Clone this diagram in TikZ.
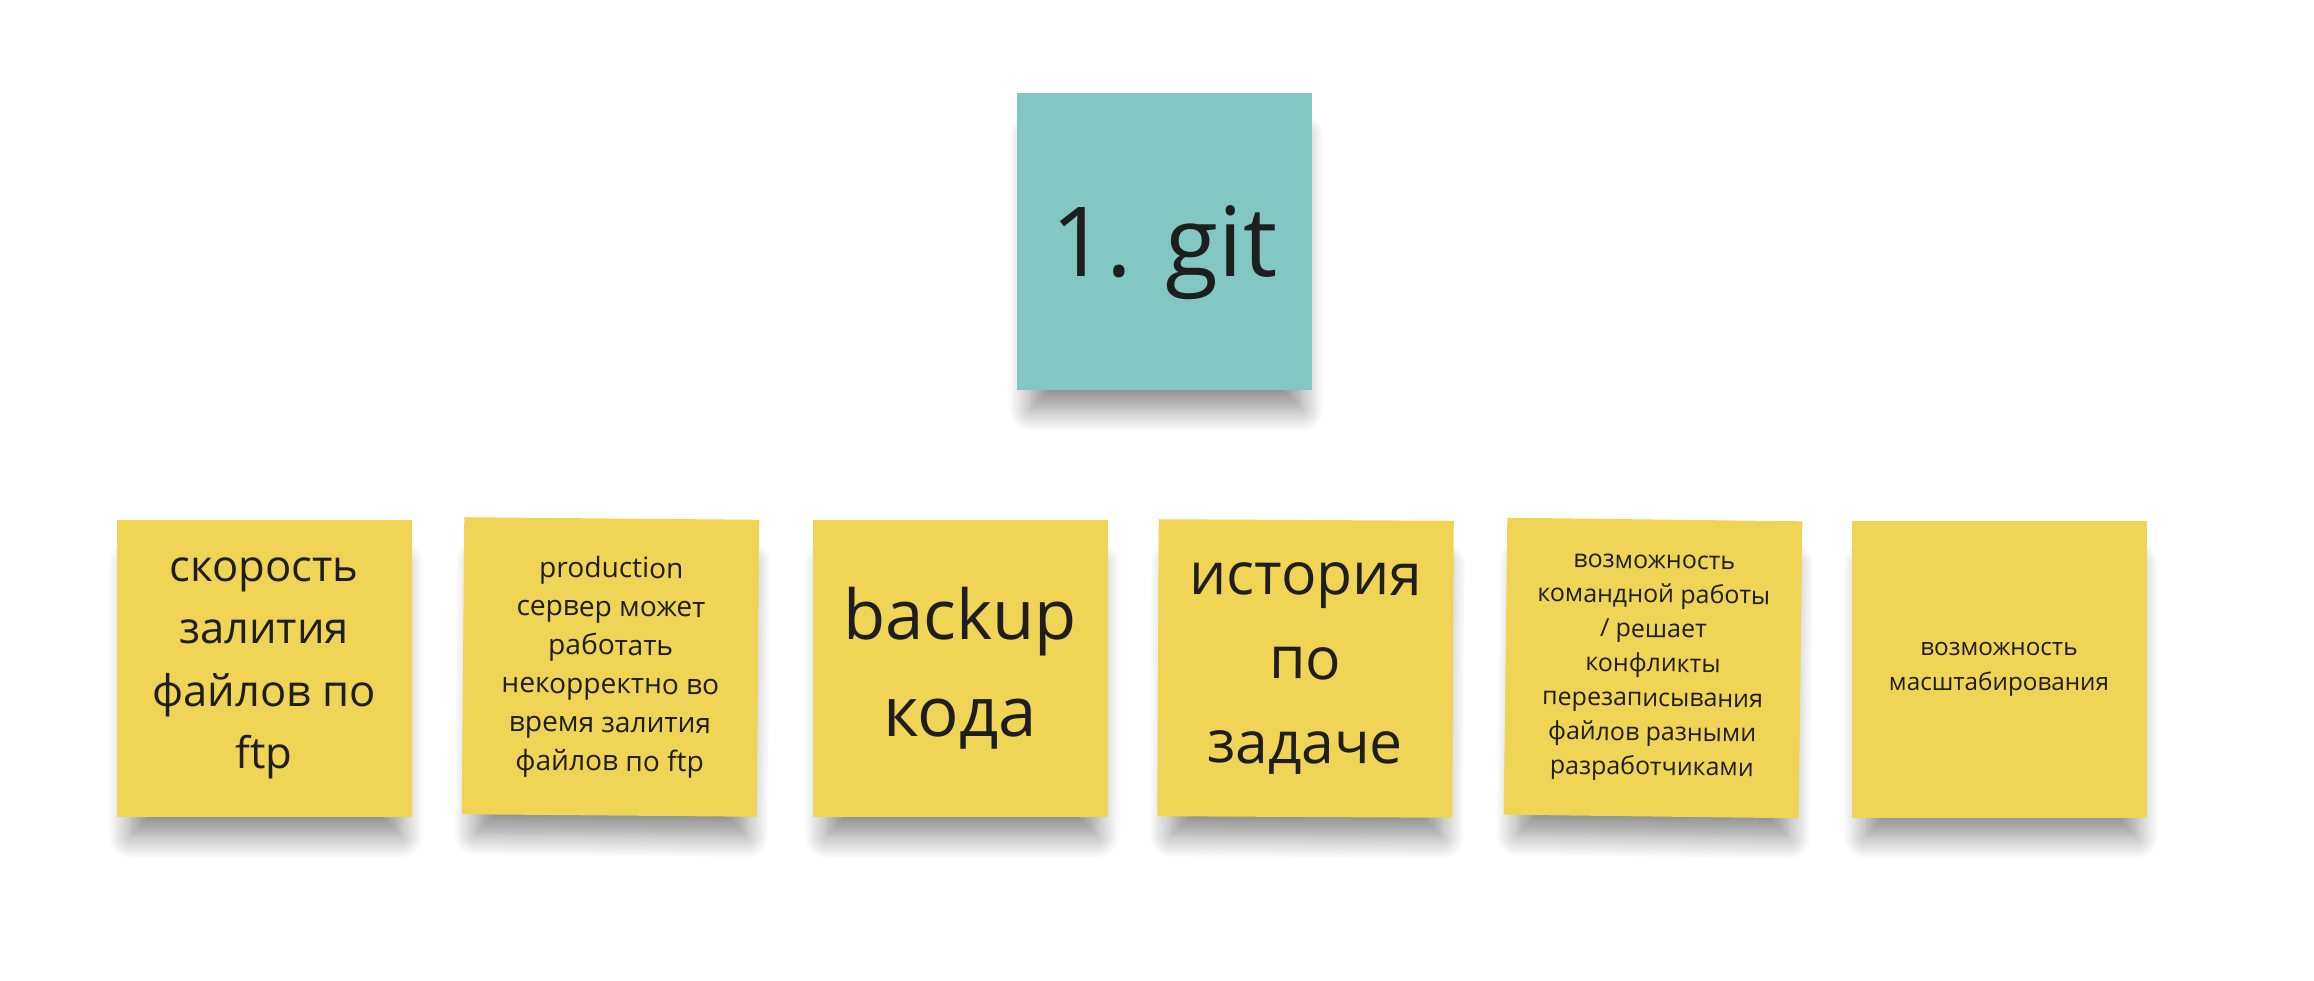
\documentclass[tikz,border=0pt]{standalone}
\usepackage{fontspec}
\setmainfont{Open Sans}
\usetikzlibrary{positioning, shadows.blur}
\definecolor{stickyteal}{HTML}{82C7C1}
\definecolor{stickyyellow}{HTML}{F0D456}
\definecolor{inktext}{HTML}{1E1E1E}

\begin{document}
\begin{tikzpicture}[every node/.style = { align = center, text = inktext }, sticky/.style = { fill = stickyyellow, minimum width = 2.95cm, minimum height = 2.97cm, inner sep = 0pt, blur shadow = {shadow xshift=0.2mm,shadow yshift=-3.4mm,shadow scale=0.92,shadow opacity=45,shadow blur radius=2.4mm,shadow blur steps=14} }]
    \useasboundingbox (0, 0) rectangle (23.14, 9.8);

    \node[sticky, fill = stickyteal, text depth = 0pt, font = \fontsize{27.5}{34}\selectfont] (git) at (11.645, 7.385) {1. git};

    \node[sticky, font = \fontsize{12.4}{17.8}\selectfont] (speed) at (2.64, 3.115) {скорость\\залития\\файлов по\\ftp};
    \node[sticky, rotate = -0.5, font = \fontsize{8}{11}\selectfont] (prod) at (6.105, 3.13) {production\\сервер может\\работать\\некорректно во\\время залития\\файлов по ftp};
    \node[sticky, font = \fontsize{19.6}{27.5}\selectfont] (backup) at (9.6, 3.115) {backup\\кода};
    \node[sticky, rotate = -0.3, font = \fontsize{16.7}{24}\selectfont] (history) at (13.055, 3.115) {история\\по\\задаче};
    \node[sticky, rotate = -0.7, font = \fontsize{7.1}{9.8}\selectfont] (team) at (16.53, 3.12) {возможность\\командной работы\\/ решает\\конфликты\\перезаписывания\\файлов разными\\разработчиками};
    \node[sticky, font = \fontsize{6.9}{10}\selectfont] (scale) at (19.99, 3.11) {возможность\\масштабирования};
  \end{tikzpicture}
\end{document}
